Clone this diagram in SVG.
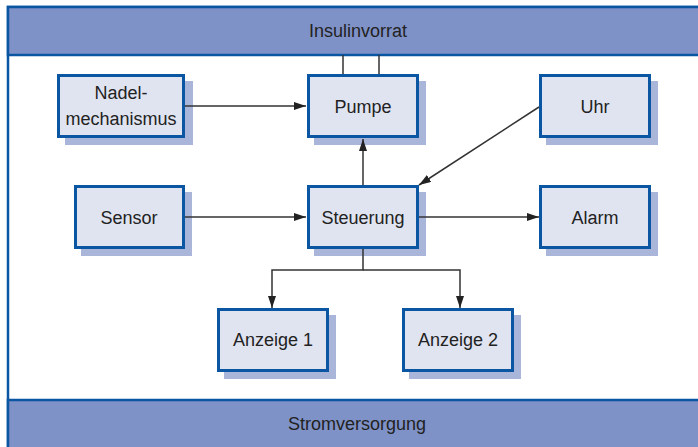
<svg xmlns="http://www.w3.org/2000/svg" width="698" height="447" viewBox="0 0 698 447">
  <style>
    .frame { fill: #ffffff; stroke: #0a56a3; stroke-width: 2.5; }
    .band { fill: #7f92c7; stroke: #0a56a3; stroke-width: 2.5; }
    .box { fill: #e0e4f1; stroke: #0a56a3; stroke-width: 3; }
    .shadow { fill: #aab5da; }
    .label { font-family: "Liberation Sans", Arial, sans-serif; font-size: 18px; fill: #222222; text-anchor: middle; }
    .wire { fill: none; stroke: #333333; stroke-width: 1.5; }
  </style>
  <defs>
    <marker id="arrow" markerUnits="userSpaceOnUse" markerWidth="12" markerHeight="8" refX="12" refY="4" orient="auto">
      <path d="M0,0 L12,4 L0,8 z" fill="#222222"/>
    </marker>
  </defs>

  <!-- outer frame with supply bands -->
  <rect class="frame" x="8" y="7" width="700" height="450"/>
  <g id="insulinvorrat">
    <rect class="band" x="8" y="7" width="700" height="48"/>
    <text class="label" x="358" y="37">Insulinvorrat</text>
  </g>
  <g id="stromversorgung">
    <rect class="band" x="8" y="400" width="700" height="60"/>
    <text class="label" x="357" y="430">Stromversorgung</text>
  </g>

  <!-- nodes -->
  <g id="nadelmechanismus">
    <rect class="shadow" x="65" y="81" width="128" height="64"/>
    <rect class="box" x="58.5" y="75.5" width="125" height="61"/>
    <text class="label" x="121" y="99">Nadel-</text>
    <text class="label" x="121" y="125">mechanismus</text>
  </g>
  <g id="pumpe">
    <rect class="shadow" x="314" y="81" width="112" height="64"/>
    <rect class="box" x="308.5" y="75.5" width="109" height="61"/>
    <text class="label" x="363" y="113">Pumpe</text>
  </g>
  <g id="uhr">
    <rect class="shadow" x="546" y="81" width="112" height="64"/>
    <rect class="box" x="540.5" y="75.5" width="109" height="61"/>
    <text class="label" x="595" y="113">Uhr</text>
  </g>
  <g id="sensor">
    <rect class="shadow" x="81" y="192" width="111" height="64"/>
    <rect class="box" x="75.5" y="186.5" width="108" height="61"/>
    <text class="label" x="129" y="224">Sensor</text>
  </g>
  <g id="steuerung">
    <rect class="shadow" x="314" y="192" width="112" height="64"/>
    <rect class="box" x="308.5" y="186.5" width="109" height="61"/>
    <text class="label" x="363" y="224">Steuerung</text>
  </g>
  <g id="alarm">
    <rect class="shadow" x="546" y="192" width="112" height="64"/>
    <rect class="box" x="540.5" y="186.5" width="109" height="61"/>
    <text class="label" x="595" y="224">Alarm</text>
  </g>
  <g id="anzeige1">
    <rect class="shadow" x="224" y="315" width="112" height="64"/>
    <rect class="box" x="218.5" y="309.5" width="109" height="61"/>
    <text class="label" x="273" y="346">Anzeige 1</text>
  </g>
  <g id="anzeige2">
    <rect class="shadow" x="409" y="315" width="112" height="64"/>
    <rect class="box" x="403.5" y="309.5" width="109" height="61"/>
    <text class="label" x="458" y="346">Anzeige 2</text>
  </g>

  <!-- connectors, drawn over the drop shadows -->
  <g id="connectors">
    <path class="wire" d="M343,55 V74 M379,55 V74"/>
    <path class="wire" d="M185,106 H306" marker-end="url(#arrow)"/>
    <path class="wire" d="M363,185 V139" marker-end="url(#arrow)"/>
    <path class="wire" d="M539,107 L419,185" marker-end="url(#arrow)"/>
    <path class="wire" d="M185,217 H306" marker-end="url(#arrow)"/>
    <path class="wire" d="M419,217 H539" marker-end="url(#arrow)"/>
    <path class="wire" d="M363,249 V270 H272 V308" marker-end="url(#arrow)"/>
    <path class="wire" d="M363,270 H460 V308" marker-end="url(#arrow)"/>
  </g>
</svg>
